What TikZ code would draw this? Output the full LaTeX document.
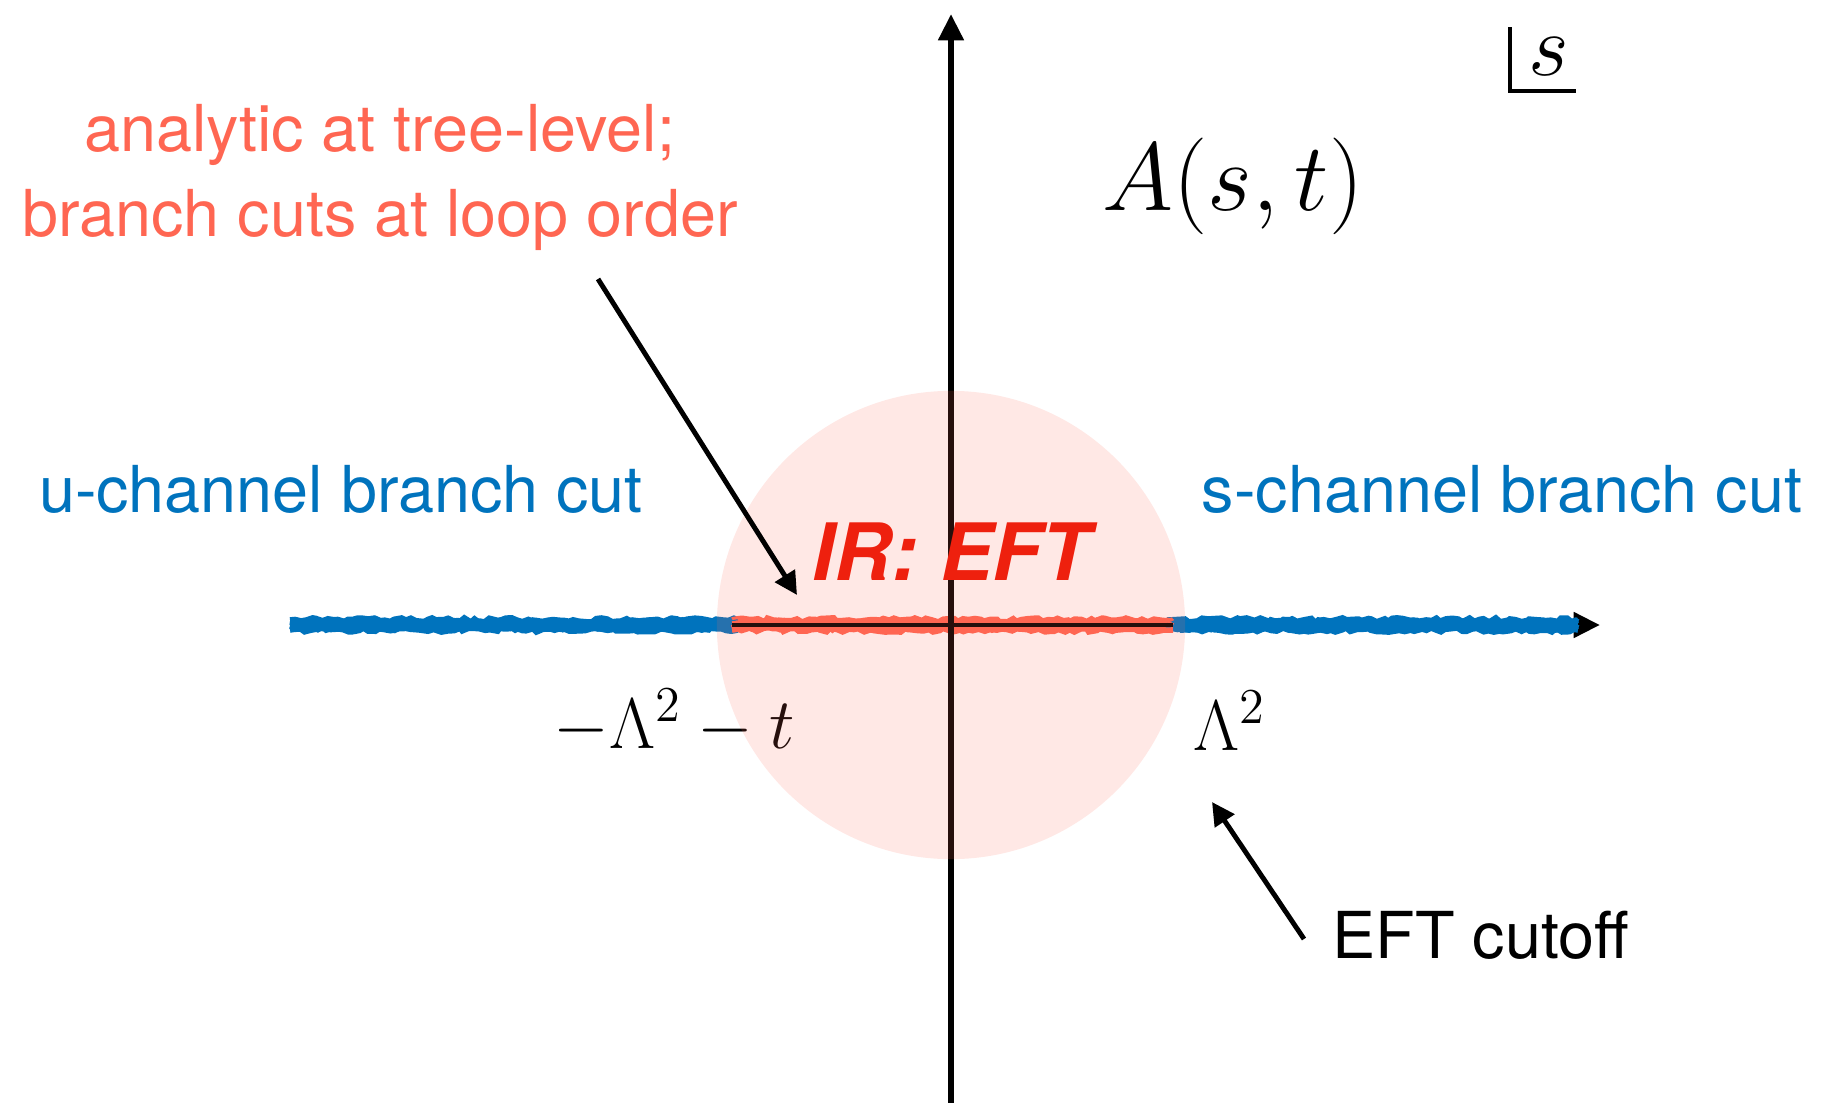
\RequirePackage{fix-cm}
\documentclass[tikz,border=0pt]{standalone}
\usepackage{fontspec}
\setmainfont{TeX Gyre Heros}
\usetikzlibrary{arrows.meta, decorations.pathmorphing}

\begin{document}
\begin{tikzpicture}[x=0.01cm, y=-0.01cm,
    lbl/.style={text=#1, font=\fontsize{18.4}{22}\selectfont, inner sep=0pt, anchor=base},
    mth/.style={font=\fontsize{#1}{#1}\selectfont, inner sep=0pt, anchor=base west},
    axis/.style={line width=1.7pt, -{Triangle[length=7.5pt, width=7pt]}},
    note/.style={line width=1.4pt, -{Triangle[length=6.5pt, width=6.5pt]}},
    band/.style={draw=#1, line width=1.6pt, decorate,
      decoration={random steps, segment length=1.5pt, amplitude=0.6pt}}]
  \definecolor{cutblue}{RGB}{0,115,189}
  \definecolor{cutsalmon}{RGB}{255,102,82}
  \definecolor{irred}{RGB}{238,32,14}
  \pgfmathsetseed{7}
  \useasboundingbox (0,0) rectangle (1821,1103);
  % ---- reference points ----------------------------------------------------
  \coordinate (origin) at (951,625);
  \coordinate (xstart) at (290,625);
  \coordinate (xend) at (1600,625);
  \coordinate (ystart) at (951,1103);
  \coordinate (yend) at (951,14);
  \coordinate (cutL) at (732,625);
  \coordinate (cutR) at (1173,625);
  % ---- real axis and branch cuts -------------------------------------------
  \draw[axis] (xstart) -- (xend);
  \foreach \dy in {-5,-3,-1,1,3,5} {
    \draw[band=cutblue] (290,625+\dy) -- (738,625+\dy);
    \draw[band=cutblue] (1167,625+\dy) -- (1578,625+\dy);
    \draw[band=cutsalmon] (732,625+\dy) -- (1173,625+\dy);}
  \draw[line width=1.4pt] (cutL) -- (cutR);
  % ---- imaginary axis ------------------------------------------------------
  \draw[axis] (ystart) -- (yend);
  \node[mth=20.4] (lamneg) at (553,748) {$-\Lambda^2-t$};
  % ---- EFT disk ------------------------------------------------------------
  \fill[cutsalmon, opacity=0.15] (origin) circle[radius=2.34cm];
  \node[mth=20.4] (lampos) at (1193,750) {$\Lambda^2$};
  % ---- labels --------------------------------------------------------------
  \node[lbl=cutblue] (uchan) at (341,512) {u-channel branch cut};
  \node[lbl=cutblue] (schan) at (1502,512) {s-channel branch cut};
  \node[lbl=irred, font=\fontsize{22.5}{26}\selectfont\bfseries\itshape] (irlabel) at (951,580) {IR: EFT};
  \node[lbl=cutsalmon] (treenote) at (380,151) {analytic at tree-level;};
  \node[lbl=cutsalmon] (loopnote) at (380,236) {branch cuts at loop order};
  \node[lbl=black, anchor=base west] (cutoff) at (1332,958) {EFT cutoff};
  \node[mth=27.5] (amp) at (1102,210) {$A(s,t)$};
  \node[mth=25] (svar) at (1528,75) {$s$};
  \draw[line width=1.3pt] (1510,27) |- (1576,91);
  % ---- pointers ------------------------------------------------------------
  \coordinate (loopptr) at (598,279);
  \coordinate (loophit) at (797,595);
  \coordinate (cutoffptr) at (1304,939);
  \coordinate (cutoffhit) at (1212,802);
  \draw[note] (loopptr) -- (loophit);
  \draw[note] (cutoffptr) -- (cutoffhit);
\end{tikzpicture}
\end{document}
